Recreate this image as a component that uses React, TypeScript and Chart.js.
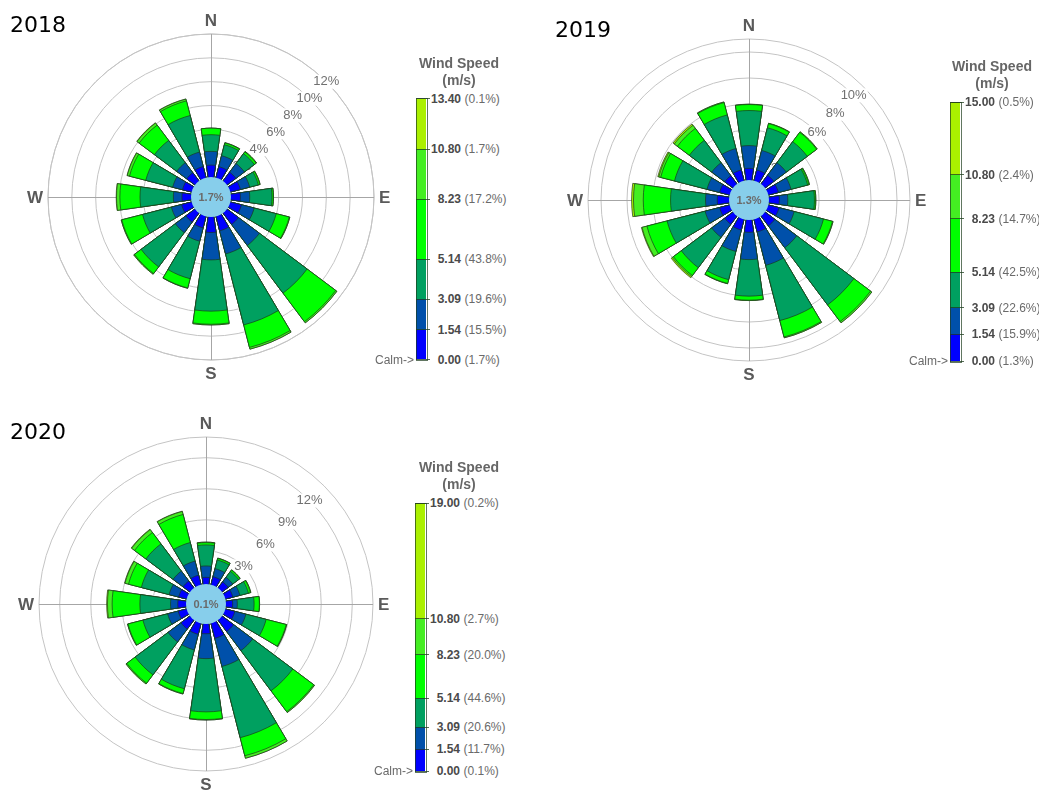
import React, { useEffect, useRef } from "react";
import { Chart, registerables } from "chart.js";

Chart.register(...registerables);

// ---------- data ----------
const DIRECTIONS = ["N", "NNE", "NE", "ENE", "E", "ESE", "SE", "SSE", "S", "SSW", "SW", "WSW", "W", "WNW", "NW", "NNW"];
const SPEED_BOUNDS = [0, 1.54, 3.09, 5.14, 8.23, 10.8];
const CLASS_COLORS = ["#0000FF", "#0050AA", "#00A060", "#00FF00", "#44EE22", "#AAF000"];

// 2018 frequency (%) per direction for each wind speed class
const y2018_0_154 = [1.0, 0.95, 0.93, 0.87, 0.79, 0.96, 1.2, 1.25, 1.3, 1.0, 0.96, 0.87, 0.76, 0.79, 0.87, 0.96];
const y2018_154_309 = [1.15, 0.95, 0.9, 0.8, 0.78, 1.1, 2.2, 2.0, 2.3, 1.15, 1.1, 0.88, 0.72, 0.85, 1.05, 1.25];
const y2018_309_514 = [1.4, 0.95, 1.04, 0.75, 1.87, 1.91, 5.0, 6.15, 4.3, 3.25, 3.59, 2.5, 2.8, 2.33, 2.33, 3.17];
const y2018_514_823 = [0.55, 0.15, 0.18, 0.13, 0.11, 1.13, 3.0, 1.95, 1.1, 0.8, 0.7, 1.8, 1.69, 1.41, 1.61, 1.27];
const y2018_823_1080 = [0, 0.03, 0.05, 0.03, 0.02, 0.05, 0.12, 0.15, 0.06, 0.03, 0.07, 0.05, 0.28, 0.2, 0.22, 0.15];
const y2018_over1080 = [0, 0, 0, 0, 0, 0, 0, 0, 0, 0, 0, 0, 0.03, 0.02, 0.03, 0.02];
const y2018Calm = 1.7;
const y2018ClassPct = [15.5, 19.6, 43.8, 17.2, 1.7, 0.1];
const y2018MaxSpeed = 13.4;
const y2018Rings = [2, 4, 6, 8, 10, 12];
const y2018OuterPct = 12;

// 2019
const y2019_0_154 = [1.05, 1.0, 1.0, 0.95, 0.95, 1.0, 1.1, 1.15, 1.1, 1.0, 0.95, 0.95, 1.06, 0.95, 0.95, 1.0];
const y2019_154_309 = [1.75, 1.55, 1.2, 1.0, 0.65, 1.2, 2.1, 2.65, 2.1, 1.7, 1.25, 1.15, 0.9, 1.0, 1.25, 1.7];
const y2019_309_514 = [2.7, 1.8, 2.02, 1.32, 2.05, 2.33, 5.5, 4.39, 2.81, 2.24, 2.92, 3.02, 2.69, 2.58, 2.15, 2.67];
const y2019_514_823 = [0.46, 0.33, 0.9, 0.1, 0.08, 0.71, 1.6, 1.3, 0.31, 0.3, 0.76, 1.6, 2.1, 1.1, 1.15, 0.98];
const y2019_823_1080 = [0.02, 0.03, 0.05, 0.05, 0.03, 0.05, 0.12, 0.07, 0.03, 0.03, 0.11, 0.39, 0.75, 0.15, 0.3, 0.05];
const y2019_over1080 = [0, 0, 0, 0, 0, 0, 0, 0, 0, 0, 0.1, 0.05, 0.15, 0.08, 0.12, 0];
const y2019Calm = 1.3;
const y2019ClassPct = [15.9, 22.6, 42.5, 14.7, 2.4, 0.5];
const y2019MaxSpeed = 15.0;
const y2019Rings = [2, 4, 6, 8, 10];
const y2019OuterPct = 11;

// 2020
const y2020_0_154 = [0.45, 0.6, 0.55, 0.55, 0.45, 0.75, 1.2, 1.3, 0.75, 0.9, 0.9, 0.65, 0.6, 0.6, 0.65, 0.75];
const y2020_154_309 = [1.1, 0.8, 0.55, 0.7, 0.45, 1.1, 2.3, 2.8, 2.4, 1.55, 1.55, 1.05, 0.7, 0.95, 1.2, 1.4];
const y2020_309_514 = [2.03, 0.86, 0.71, 0.85, 1.62, 2.02, 4.85, 7.1, 5.14, 3.87, 3.97, 2.46, 2.96, 2.77, 3.28, 1.85];
const y2020_514_823 = [0.22, 0.16, 0.16, 0.2, 0.51, 2.0, 2.52, 1.8, 0.74, 0.48, 1.01, 1.49, 2.68, 1.28, 1.37, 2.8];
const y2020_823_1080 = [0.05, 0.03, 0.03, 0.05, 0.02, 0.05, 0.1, 0.25, 0.05, 0.05, 0.1, 0.05, 0.45, 0.35, 0.35, 0.3];
const y2020_over1080 = [0, 0, 0, 0, 0, 0, 0, 0, 0, 0, 0, 0, 0.08, 0.04, 0.05, 0.03];
const y2020Calm = 0.1;
const y2020ClassPct = [11.7, 20.6, 44.6, 20.0, 2.7, 0.2];
const y2020MaxSpeed = 19.0;
const y2020Rings = [3, 6, 9, 12];
const y2020OuterPct = 14;

// ---------- layout / style ----------
const FONT = '"Liberation Sans", Arial, Helvetica, sans-serif';
const BAR_DEG = 16.3;
const GAP_DEG = 360 / DIRECTIONS.length - BAR_DEG;
const CALM_RADIUS = 20;

type RoseProps = {
  cx: number;
  cy: number;
  half: number;
  outerR: number;
  zeroR: number;
  outerPct: number;
  rings: number[];
  classes: number[][];
  calm: number;
};

function Rose(props: RoseProps) {
  const ref = useRef<HTMLCanvasElement | null>(null);
  useEffect(() => {
    const canvas = ref.current;
    if (!canvas) return;
    const { half, outerR, zeroR, outerPct, rings, classes, calm } = props;
    const pxPerPct = (outerR - zeroR) / outerPct;
    const minV = -zeroR / pxPerPct;
    const maxV = minV + half / pxPerPct;

    const cumul = classes.map((_, k) =>
      DIRECTIONS.map((__, d) => classes.slice(0, k + 1).reduce((s, arr) => s + arr[d], 0))
    );
    const labels = DIRECTIONS.flatMap((d) => [d, ""]);
    const datasets = cumul.map((vals, k) => ({
      label: `class ${k}`,
      data: vals.flatMap((v) => [v, minV]),
      backgroundColor: (c: any) => (c.dataIndex % 2 === 0 ? CLASS_COLORS[k] : "rgba(0,0,0,0)"),
      borderColor: "rgba(25,55,25,0.85)",
      borderWidth: (c: any) => (c.dataIndex % 2 === 0 ? 0.8 : 0),
      angle: (c: any) => (c.dataIndex % 2 === 0 ? BAR_DEG : GAP_DEG),
    }));

    const decor = {
      id: "roseDecor",
      beforeDatasetsDraw(chart: any) {
        const s = chart.scales.r;
        const ctx = chart.ctx as CanvasRenderingContext2D;
        const x0 = s.xCenter;
        const y0 = s.yCenter;
        const R = s.getDistanceFromCenterForValue(outerPct);
        ctx.save();
        ctx.strokeStyle = "#c4c4c4";
        ctx.lineWidth = 1;
        for (const v of [...rings, outerPct]) {
          const r = s.getDistanceFromCenterForValue(v);
          ctx.beginPath();
          ctx.arc(x0, y0, r, 0, Math.PI * 2);
          ctx.stroke();
        }
        ctx.strokeStyle = "#a6a6a6";
        ctx.beginPath();
        ctx.moveTo(x0 - R, y0 + 0.5);
        ctx.lineTo(x0 + R, y0 + 0.5);
        ctx.moveTo(x0 + 0.5, y0 - R);
        ctx.lineTo(x0 + 0.5, y0 + R);
        ctx.stroke();
        ctx.font = `13px ${FONT}`;
        ctx.textAlign = "center";
        ctx.textBaseline = "middle";
        for (const v of rings) {
          const r = s.getDistanceFromCenterForValue(v);
          const lx = x0 + r * Math.SQRT1_2;
          const ly = y0 - r * Math.SQRT1_2;
          const txt = `${v}%`;
          const w = ctx.measureText(txt).width;
          ctx.fillStyle = "#ffffff";
          ctx.fillRect(lx - w / 2 - 1, ly - 7, w + 2, 14);
          ctx.fillStyle = "#707070";
          ctx.fillText(txt, lx, ly);
        }
        ctx.restore();
      },
      afterDatasetsDraw(chart: any) {
        const s = chart.scales.r;
        const ctx = chart.ctx as CanvasRenderingContext2D;
        const x0 = s.xCenter;
        const y0 = s.yCenter;
        const R = s.getDistanceFromCenterForValue(outerPct);
        ctx.save();
        ctx.fillStyle = "#87CEEB";
        ctx.beginPath();
        ctx.arc(x0, y0, CALM_RADIUS, 0, Math.PI * 2);
        ctx.fill();
        ctx.fillStyle = "#6a6a6a";
        ctx.font = `bold 11px ${FONT}`;
        ctx.textAlign = "center";
        ctx.textBaseline = "middle";
        ctx.fillText(`${calm.toFixed(1)}%`, x0, y0 + 0.5);

        ctx.fillStyle = "#5a5a5a";
        ctx.font = `bold 17px ${FONT}`;
        ctx.textAlign = "center";
        ctx.fillText("N", x0, y0 - R - 13);
        ctx.fillText("S", x0, y0 + R + 14);
        ctx.textAlign = "right";
        ctx.fillText("W", x0 - R - 5, y0 + 1);
        ctx.textAlign = "left";
        ctx.fillText("E", x0 + R + 5, y0 + 1);
        ctx.restore();
      },
    };

    const chart = new Chart(canvas, {
      type: "polarArea",
      data: { labels, datasets: datasets as any },
      options: {
        animation: false,
        responsive: false,
        maintainAspectRatio: false,
        events: [],
        layout: { padding: 0 },
        plugins: { legend: { display: false }, tooltip: { enabled: false } },
        scales: {
          r: {
            type: "radialLinear",
            min: minV,
            max: maxV,
            startAngle: -BAR_DEG / 2,
            ticks: { display: false },
            grid: { display: false },
            angleLines: { display: false },
            pointLabels: { display: false },
          },
        },
      } as any,
      plugins: [decor],
    });
    return () => chart.destroy();
  }, []);
  const { cx, cy, half } = props;
  return (
    <canvas
      ref={ref}
      width={2 * half}
      height={2 * half}
      style={{ position: "absolute", left: cx - half, top: cy - half, width: 2 * half, height: 2 * half }}
    />
  );
}

type LegendProps = {
  left: number;
  top: number;
  height: number;
  titleCx: number;
  maxSpeed: number;
  classPct: number[];
  calm: number;
};

function SpeedLegend({ left, top, height, titleCx, maxSpeed, classPct, calm }: LegendProps) {
  const bounds = [...SPEED_BOUNDS, maxSpeed];
  const yOf = (v: number) => top + height * (1 - v / maxSpeed);
  const barW = 10;
  const numEnd = left + 45;
  const items: React.ReactNode[] = [];
  for (let k = 0; k < CLASS_COLORS.length; k++) {
    const y1 = yOf(bounds[k + 1]);
    const y2 = yOf(bounds[k]);
    items.push(
      <div
        key={`seg${k}`}
        style={{ position: "absolute", left, top: y1, width: barW, height: y2 - y1, background: CLASS_COLORS[k] }}
      />
    );
  }
  items.push(
    <div
      key="outline"
      style={{
        position: "absolute",
        left: left - 0.5,
        top: top - 0.5,
        width: barW,
        height,
        border: "1px solid rgba(30,60,30,0.7)",
      }}
    />
  );
  bounds.forEach((b, i) => {
    const y = yOf(b);
    const pct = i === 0 ? calm : classPct[i - 1];
    items.push(
      <div
        key={`tick${i}`}
        style={{ position: "absolute", left, top: y - 0.5, width: barW + 4, height: 1, background: "rgba(30,60,30,0.75)" }}
      />
    );
    items.push(
      <div
        key={`num${i}`}
        style={{
          position: "absolute",
          left: numEnd - 60,
          width: 60,
          top: y - 7,
          lineHeight: "14px",
          textAlign: "right",
          font: `bold 12px ${FONT}`,
          color: "#4a4a4a",
          whiteSpace: "nowrap",
        }}
      >
        {b.toFixed(2)}
      </div>
    );
    items.push(
      <div
        key={`pct${i}`}
        style={{
          position: "absolute",
          left: numEnd + 3.5,
          top: y - 7,
          lineHeight: "14px",
          font: `12px ${FONT}`,
          color: "#6a6a6a",
          whiteSpace: "nowrap",
        }}
      >
        ({pct.toFixed(1)}%)
      </div>
    );
  });
  const yCalm = yOf(0);
  items.push(
    <div
      key="calm"
      style={{
        position: "absolute",
        left: left - 2 - 80,
        width: 80,
        top: yCalm - 7,
        lineHeight: "14px",
        textAlign: "right",
        font: `12px ${FONT}`,
        color: "#6a6a6a",
        whiteSpace: "nowrap",
      }}
    >
      {"Calm->"}
    </div>
  );
  items.push(
    <div
      key="t1"
      style={{
        position: "absolute",
        left: titleCx - 70,
        width: 140,
        top: top - 36 - 8,
        lineHeight: "16px",
        textAlign: "center",
        font: `bold 14px ${FONT}`,
        color: "#666",
      }}
    >
      Wind Speed
    </div>
  );
  items.push(
    <div
      key="t2"
      style={{
        position: "absolute",
        left: titleCx - 70,
        width: 140,
        top: top - 19 - 8,
        lineHeight: "16px",
        textAlign: "center",
        font: `bold 14px ${FONT}`,
        color: "#666",
      }}
    >
      (m/s)
    </div>
  );
  return <>{items}</>;
}

function YearTitle({ text, left, cy }: { text: string; left: number; cy: number }) {
  return (
    <div
      style={{
        position: "absolute",
        left,
        top: cy - 13,
        lineHeight: "26px",
        font: '22px "DejaVu Sans", Verdana, sans-serif',
        color: "#000",
        zIndex: 2,
      }}
    >
      {text}
    </div>
  );
}

export default function App() {
  const classes2018 = [y2018_0_154, y2018_154_309, y2018_309_514, y2018_514_823, y2018_823_1080, y2018_over1080];
  const classes2019 = [y2019_0_154, y2019_154_309, y2019_309_514, y2019_514_823, y2019_823_1080, y2019_over1080];
  const classes2020 = [y2020_0_154, y2020_154_309, y2020_309_514, y2020_514_823, y2020_823_1080, y2020_over1080];
  return (
    <div
      style={{
        position: "fixed",
        left: 0,
        top: 0,
        width: 1039,
        height: 790,
        overflow: "hidden",
        background: "#fff",
      }}
    >
      <Rose cx={211} cy={197} half={190} outerR={163} zeroR={20} outerPct={y2018OuterPct} rings={y2018Rings} classes={classes2018} calm={y2018Calm} />
      <Rose cx={749} cy={200} half={190} outerR={161} zeroR={18} outerPct={y2019OuterPct} rings={y2019Rings} classes={classes2019} calm={y2019Calm} />
      <Rose cx={206} cy={604} half={190} outerR={167} zeroR={22} outerPct={y2020OuterPct} rings={y2020Rings} classes={classes2020} calm={y2020Calm} />
      <SpeedLegend left={416} top={98.5} height={261} titleCx={459} maxSpeed={y2018MaxSpeed} classPct={y2018ClassPct} calm={y2018Calm} />
      <SpeedLegend left={950} top={102} height={259} titleCx={992} maxSpeed={y2019MaxSpeed} classPct={y2019ClassPct} calm={y2019Calm} />
      <SpeedLegend left={415} top={503} height={268} titleCx={459} maxSpeed={y2020MaxSpeed} classPct={y2020ClassPct} calm={y2020Calm} />
      <YearTitle text="2018" left={10} cy={25} />
      <YearTitle text="2019" left={555} cy={30} />
      <YearTitle text="2020" left={10} cy={432} />
    </div>
  );
}
